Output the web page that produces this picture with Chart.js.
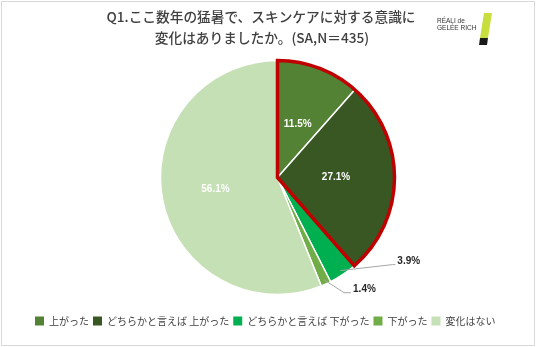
<!DOCTYPE html>
<html>
<head>
<meta charset="utf-8">
<script src="https://cdn.jsdelivr.net/npm/chart.js@4.4.1/dist/chart.umd.min.js"></script>
<style>
  html, body { margin: 0; padding: 0; background: #fff; }
  #wrap { position: relative; width: 536px; height: 347px; }
</style>
</head>
<body>
<div id="wrap"><canvas id="chart" width="536" height="347"></canvas></div>
<script>
// Data
const categories = ['上がった', 'どちらかと言えば 上がった', 'どちらかと言えば 下がった', '下がった', '変化はない'];
const values = [11.5, 27.1, 3.9, 1.4, 56.1];
const colors = ['#548235', '#385723', '#00b050', '#70ad47', '#c5e0b4'];
const titleLines = ['Q1.ここ数年の猛暑で、スキンケアに対する意識に', '変化はありましたか。(SA,N＝435)'];

const JP = '"Noto Sans CJK JP", "Noto Sans", sans-serif';

// label placement: inside slices at a radius fraction, or outside with a leader line
const labelStyle = [
  { inside: true, r: 0.49 },
  { inside: true, r: 0.5 },
  { inside: false, elbow: [52, -6], tail: 3 },
  { inside: false, elbow: [20, 13], tail: 7 },
  { inside: true, r: 0.54 },
];

const decorPlugin = {
  id: 'decor',
  afterDatasetsDraw(chart) {
    const ctx = chart.ctx;
    const arcs = chart.getDatasetMeta(0).data;

    // red outline around the first two slices
    const a0 = arcs[0], a1 = arcs[1];
    ctx.save();
    ctx.beginPath();
    ctx.moveTo(a0.x, a0.y);
    ctx.arc(a0.x, a0.y, a0.outerRadius, a0.startAngle, a1.endAngle);
    ctx.closePath();
    ctx.strokeStyle = '#c00000';
    ctx.lineWidth = 3.5;
    ctx.lineJoin = 'miter';
    ctx.stroke();
    ctx.restore();

    // data labels
    ctx.save();
    ctx.font = 'bold 10px "Liberation Sans Narrow", "Liberation Sans", Arial, sans-serif';
    ctx.textBaseline = 'middle';
    arcs.forEach((arc, i) => {
      const st = labelStyle[i];
      const mid = (arc.startAngle + arc.endAngle) / 2;
      const text = values[i].toFixed(1) + '%';
      if (st.inside) {
        const r = arc.outerRadius * st.r;
        ctx.fillStyle = '#ffffff';
        ctx.textAlign = 'center';
        ctx.fillText(text, arc.x + Math.cos(mid) * r, arc.y + Math.sin(mid) * r);
      } else {
        const r = arc.outerRadius * 0.96;
        const sx = arc.x + Math.cos(mid) * r;
        const sy = arc.y + Math.sin(mid) * r;
        const ex = sx + st.elbow[0];
        const ey = sy + st.elbow[1];
        ctx.beginPath();
        ctx.moveTo(sx, sy);
        ctx.lineTo(ex, ey);
        ctx.lineTo(ex + st.tail, ey);
        ctx.strokeStyle = '#a6a6a6';
        ctx.lineWidth = 1;
        ctx.stroke();
        ctx.fillStyle = '#262626';
        ctx.textAlign = 'left';
        ctx.fillText(text, ex + st.tail + 2, ey - 3);
      }
    });
    ctx.restore();
  },
  afterDraw(chart) {
    const ctx = chart.ctx;
    ctx.save();
    // title
    ctx.fillStyle = '#404040';
    ctx.font = '500 13.7px ' + JP;
    ctx.textAlign = 'center';
    ctx.textBaseline = 'middle';
    ctx.fillText(titleLines[0], 261, 17);
    ctx.fillText(titleLines[1], 262, 38);

    // logo
    ctx.textAlign = 'left';
    ctx.fillStyle = '#333';
    ctx.font = '6.5px "Liberation Sans Narrow", "Liberation Sans", sans-serif';
    ctx.fillText('RÉALI de', 437, 21);
    ctx.fillText('GELÉE RICH', 437, 28);
    ctx.beginPath();
    ctx.moveTo(484, 13); ctx.lineTo(492, 13); ctx.lineTo(488, 38); ctx.lineTo(480, 38);
    ctx.closePath();
    ctx.fillStyle = '#c8de3c';
    ctx.fill();
    ctx.beginPath();
    ctx.moveTo(480, 38); ctx.lineTo(488, 38); ctx.lineTo(487, 45); ctx.lineTo(479, 45);
    ctx.closePath();
    ctx.fillStyle = '#1a1a1a';
    ctx.fill();

    // frame
    ctx.strokeStyle = '#d9d9d9';
    ctx.lineWidth = 1;
    ctx.strokeRect(1.5, 1.5, 533, 344);
    ctx.restore();
  }
};

new Chart(document.getElementById('chart'), {
  type: 'pie',
  data: {
    labels: categories,
    datasets: [{
      data: values,
      backgroundColor: colors,
      borderColor: '#ffffff',
      borderWidth: 1.5,
    }]
  },
  options: {
    responsive: false,
    animation: false,
    radius: 117,
    layout: { padding: { top: 43, left: 31, right: 12, bottom: 11 } },
    plugins: {
      title: { display: false },
      tooltip: { enabled: false },
      legend: {
        position: 'bottom',
        align: 'start',
        labels: {
          boxWidth: 9,
          boxHeight: 9,
          padding: 4,
          color: '#404040',
          font: { family: JP, size: 10 },
          generateLabels: (chart) => {
            const items = Chart.overrides.pie.plugins.legend.labels.generateLabels(chart);
            return items.map(it => ({ ...it, strokeStyle: it.fillStyle, lineWidth: 0 }));
          }
        }
      }
    }
  },
  plugins: [decorPlugin]
});
</script>
</body>
</html>
